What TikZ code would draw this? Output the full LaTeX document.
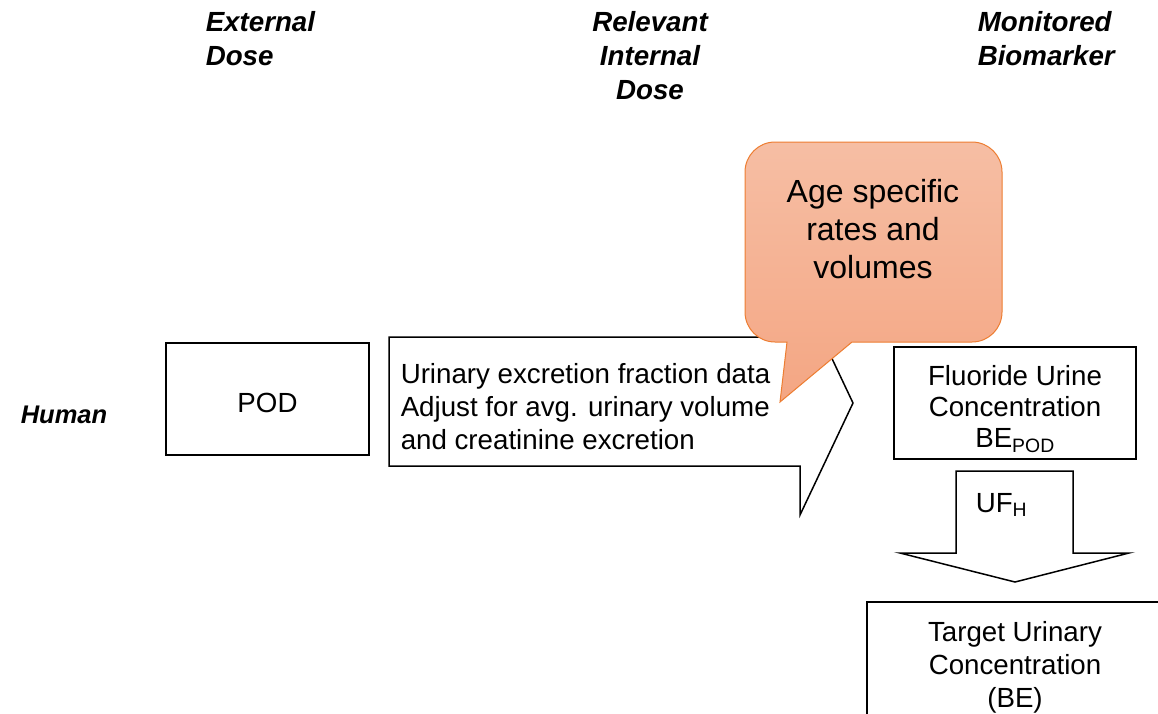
\documentclass[tikz,border=0pt]{standalone}
\usepackage{fontspec}
\setmainfont{Liberation Sans}
\usetikzlibrary{positioning}
\definecolor{calloutline}{HTML}{ED7D31}
\definecolor{callouttop}{HTML}{F6BEA4}
\definecolor{calloutbot}{HTML}{F4A683}

\begin{document}
\begin{tikzpicture}[x=1pt,y=-1pt,line width=1.5pt,
  body/.style={font=\fontsize{27.7}{33}\selectfont,inner sep=0pt},
  head/.style={font=\fontsize{27.7}{34}\selectfont\bfseries\itshape,inner sep=0pt},
  frame/.style={draw,inner sep=0pt}]
 \useasboundingbox (0,0) rectangle (1158,713);
 \clip (0,0) rectangle (1158,713);
 \node[head,anchor=west,align=left] (ext) at (205,39) {External\\Dose};
 \node[head,align=center] (rel) at (650,56) {Relevant\\Internal\\Dose};
 \node[head,anchor=west,align=left] (mon) at (977,39) {Monitored\\Biomarker};
 \node[head,font=\fontsize{25.5}{30}\selectfont\bfseries\itshape,anchor=east] (hum) at (108,415) {Human};
 \node[frame,minimum width=203,minimum height=112,anchor=north] (pod) at (267.5,342) {};
 \node[body] (podtxt) at (267.5,403) {POD};
 \draw (389,337)--(800,337)--(800,291)--(853,403)--(800,515)--(800,466)--(389,466)--cycle;
 \node[body,anchor=west,align=left] (adj) at (400,407)
  {Urinary excretion fraction data\\Adjust for avg. urinary volume\\and creatinine excretion};
 \path[draw=calloutline,line width=1pt,top color=callouttop,bottom color=calloutbot]
  (852,342) [rounded corners=30] -- (1002,342) -- (1002,142) -- (745,142) -- (745,342)
  [sharp corners] -- (787,342) -- (780,402) -- cycle;
 \node[body,font=\fontsize{32}{38}\selectfont,align=center] (age) at (873,229)
  {Age specific\\rates and\\volumes};
 \node[frame,minimum width=242,minimum height=112,anchor=north] (flu) at (1015,346) {};
 \node[body,align=center,font=\fontsize{27.7}{31}\selectfont] (flutxt) at (1015,409)
  {Fluoride Urine\\Concentration\\BE\textsubscript{POD}};
 \draw (956,471)--(1073,471)--(1073,553)--(1129,553)--(1015,582)--(900,553)--(956,553)--cycle;
 \node[body,anchor=west] (uf) at (975,505) {UF\textsubscript{H}};
 \node[frame,minimum width=296,minimum height=140,anchor=north] (tgt) at (1015,601) {};
 \node[body,align=center] (tgttxt) at (1015,667)
  {Target Urinary\\Concentration\\(BE)};
\end{tikzpicture}
\end{document}
